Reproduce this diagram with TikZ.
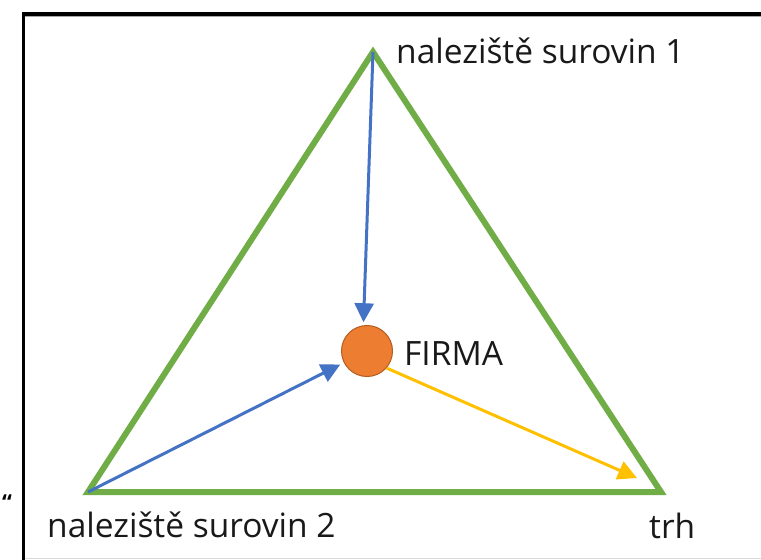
\documentclass[tikz,border=0pt]{standalone}
\usepackage{fontspec}
\setmainfont{Open Sans}
\usepackage{xcolor}
\usepackage{tikz}
\usetikzlibrary{arrows.meta}

\definecolor{zelena}{HTML}{70AD47}
\definecolor{modra}{HTML}{4472C4}
\definecolor{oranzova}{HTML}{ED7D31}
\definecolor{okraj}{HTML}{B35C22}
\definecolor{zluta}{HTML}{FFC000}

\tikzset{
    hrana/.style = {draw = zelena, line width = 6pt, line join = miter},
    sipka/.style = {line width = 3pt, -{Triangle[length = 19pt, width = 19pt]}},
    popis/.style = {inner sep = 0pt, anchor = base west,
        font = \fontsize{33.5}{40}\selectfont, text = black!90},
    firma/.style = {circle, draw = okraj, line width = 1pt, fill = oranzova,
        minimum size = 51pt, inner sep = 0pt}
}

\begin{document}
\begin{tikzpicture}[x = 1pt, y = -1pt]
            \useasboundingbox (0, 0) rectangle (761, 560);
            % ramecek
            \draw[line width = 4pt] (22.5, 14) -- (761, 14);
            \draw[line width = 1pt, color = black!35] (25, 16.5) -- (761, 16.5);
            \draw[line width = 2.5pt] (23.5, 12) -- (23.5, 560);
            \draw[line width = 0.8pt, color = black!15] (25, 558.5) -- (761, 558.5);
            \node[inner sep = 0pt, font = \fontsize{22}{22}\bfseries\selectfont] (znak) at (7, 503) {“};

            \coordinate (s1) at (373, 52);
            \coordinate (s2) at (88, 492);
            \coordinate (trh) at (661, 492);
            \coordinate (cil) at (637, 478);

            \draw[hrana] (s1) -- (s2) -- (trh) -- cycle;

            \node[firma] (f) at (367, 351) {};

            \draw[sipka, color = modra, shorten > = 3pt] (s1) -- (f.98);
            \draw[sipka, color = modra, shorten > = 4pt] (s2) -- (f);
            \draw[sipka, color = zluta] (f.-41) -- (cil);

            \node[popis] (p1) at (396, 63) {naleziště surovin 1};
            \node[popis] (p2) at (47, 537) {naleziště surovin 2};
            \node[popis] (p3) at (649, 538) {trh};
            \node[popis] (p4) at (404, 365) {FIRMA};
        \end{tikzpicture}
\end{document}
